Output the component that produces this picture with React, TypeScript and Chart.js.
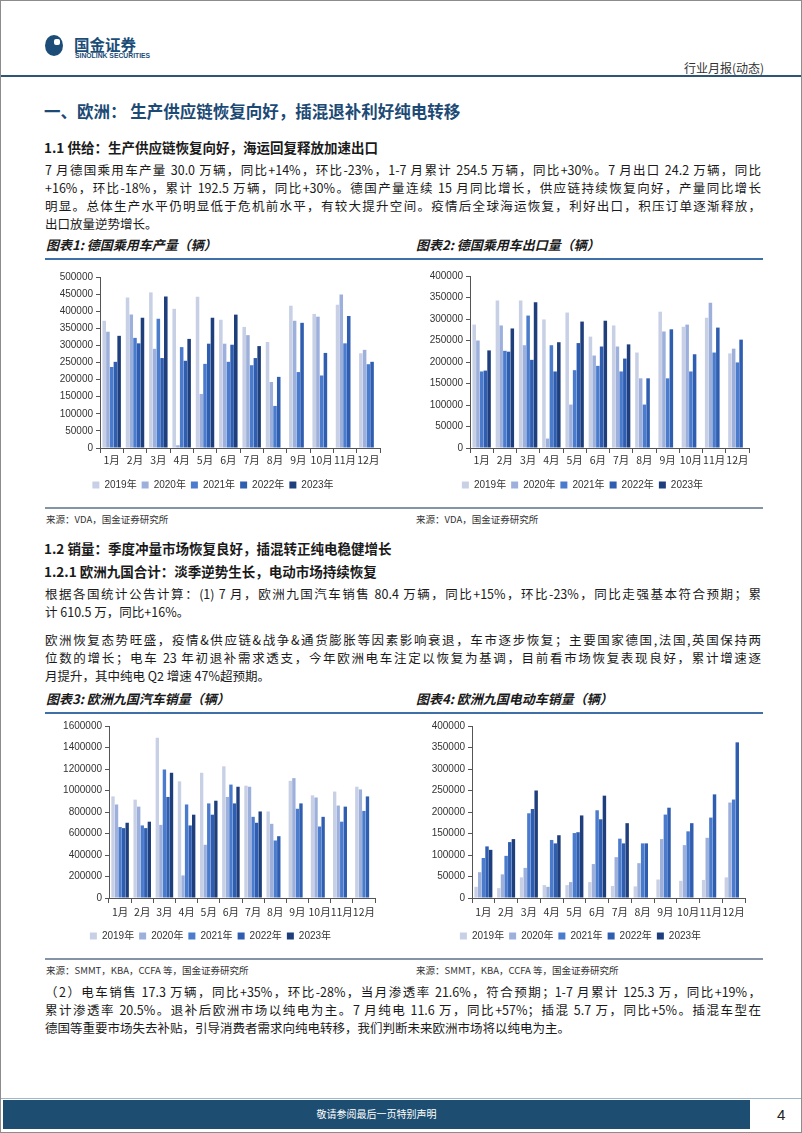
import React, { useEffect, useRef } from "react";
import { Chart, registerables } from "chart.js";

Chart.register(...registerables);

// ---------- data ----------
const months = ["1月", "2月", "3月", "4月", "5月", "6月", "7月", "8月", "9月", "10月", "11月", "12月"];
const seriesNames = ["2019年", "2020年", "2021年", "2022年", "2023年"];
const seriesColors = ["#c8d0e6", "#9db0dc", "#4a7bcc", "#2f5db0", "#1f3e7c"];

// 图表1: 德国乘用车产量（辆）
const prod2019 = [372000, 440000, 455000, 407000, 442000, 375000, 354000, 310000, 416000, 392000, 419000, 277000];
const prod2020 = [340000, 390000, 290000, 8000, 158000, 305000, 330000, 193000, 372000, 384000, 449000, 287000];
const prod2021 = [237000, 322000, 378000, 295000, 246000, 252000, 242000, 123000, 222000, 212000, 306000, 245000];
const prod2022 = [252000, 306000, 263000, 255000, 305000, 302000, 263000, 208000, 366000, 278000, 386000, 252000];
const prod2023 = [328000, 381000, 443000, 319000, 381000, 390000, 298000, null, null, null, null, null];

// 图表2: 德国乘用车出口量（辆）
const exp2019 = [287000, 343000, 343000, 299000, 315000, 259000, 285000, 222000, 317000, 282000, 303000, 220000];
const exp2020 = [250000, 285000, 239000, 22000, 101000, 215000, 236000, 162000, 271000, 287000, 338000, 231000];
const exp2021 = [178000, 226000, 308000, 239000, 181000, 191000, 178000, 101000, 162000, 178000, 222000, 199000];
const exp2022 = [180000, 224000, 205000, 178000, 244000, 236000, 208000, 162000, 276000, 218000, 280000, 252000];
const exp2023 = [227000, 278000, 339000, 246000, 294000, 296000, 241000, null, null, null, null, null];

// 图表3: 欧洲九国汽车销量（辆）
const sale2019 = [945000, 915000, 1490000, 1085000, 1165000, 1225000, 1045000, 805000, 1090000, 955000, 990000, 1035000];
const sale2020 = [870000, 850000, 680000, 210000, 495000, 940000, 1035000, 690000, 1115000, 935000, 860000, 1010000];
const sale2021 = [660000, 675000, 1195000, 870000, 880000, 1055000, 755000, 535000, 830000, 665000, 710000, 810000];
const sale2022 = [650000, 650000, 940000, 675000, 775000, 880000, 700000, 575000, 880000, 755000, 850000, 945000];
const sale2023 = [700000, 710000, 1165000, 775000, 905000, 1035000, 805000, null, null, null, null, null];

// 图表4: 欧洲九国电动车销量（辆）
const ev2019 = [26000, 23000, 48000, 30000, 30000, 37000, 28000, 27000, 43000, 40000, 42000, 48000];
const ev2020 = [60000, 55000, 70000, 26000, 37000, 79000, 95000, 81000, 137000, 123000, 140000, 222000];
const ev2021 = [93000, 98000, 197000, 135000, 151000, 204000, 138000, 127000, 194000, 155000, 187000, 229000];
const ev2022 = [120000, 130000, 207000, 127000, 153000, 183000, 127000, 127000, 210000, 174000, 241000, 362000];
const ev2023 = [112000, 137000, 250000, 146000, 192000, 238000, 174000, null, null, null, null, null];

const CJK = "'Noto Sans CJK SC', sans-serif";
const NUMF = "'Liberation Sans', 'Noto Sans CJK SC', sans-serif";

type Box = { x: number; y: number; w: number; h: number };

function BarChart(props: {
  box: Box;
  series: (number | null)[][];
  max: number;
  step: number;
  axisW: number;
  xAxisH: number;
  tickPad: number;
  pad: { top: number; right: number; bottom: number; left: number };
}) {
  const ref = useRef<HTMLCanvasElement>(null);
  useEffect(() => {
    const chart = new Chart(ref.current!, {
      type: "bar",
      data: {
        labels: months,
        datasets: props.series.map((d, i) => ({
          label: seriesNames[i],
          data: d as any,
          backgroundColor: seriesColors[i],
          borderWidth: 0,
          categoryPercentage: 0.8,
          barPercentage: 0.95,
        })),
      },
      options: {
        animation: false,
        responsive: false,
        maintainAspectRatio: false,
        layout: { padding: props.pad },
        plugins: {
          tooltip: { enabled: false },
          legend: {
            position: "bottom",
            labels: {
              boxWidth: 7,
              boxHeight: 7,
              padding: 5,
              color: "#333",
              font: { family: NUMF, size: 10 },
            },
          },
        },
        scales: {
          x: {
            grid: {
              display: true,
              drawOnChartArea: false,
              drawTicks: true,
              tickLength: 5,
              color: "#555",
              offset: true,
            },
            border: { display: true, color: "#555", width: 1 },
            ticks: {
              color: "#333",
              padding: props.tickPad,
              maxRotation: 0,
              autoSkip: false,
              font: { family: CJK, size: 10.5 },
            },
            afterFit: (s: any) => {
              s.height = props.xAxisH;
            },
          },
          y: {
            min: 0,
            max: props.max,
            grid: {
              display: true,
              drawOnChartArea: false,
              drawTicks: true,
              tickLength: 4,
              color: "#555",
            },
            border: { display: true, color: "#555", width: 1 },
            ticks: {
              stepSize: props.step,
              color: "#333",
              padding: 3,
              font: { family: NUMF, size: 10 },
              callback: (v: any) => String(v),
            },
            afterFit: (s: any) => {
              s.width = props.axisW;
            },
          },
        },
      },
    });
    return () => chart.destroy();
  }, []);
  const b = props.box;
  return (
    <canvas
      ref={ref}
      width={b.w}
      height={b.h}
      style={{ position: "absolute", left: b.x, top: b.y, width: b.w, height: b.h }}
    />
  );
}

function T(props: {
  x: number;
  y: number; // vertical centre
  size: number;
  text: React.ReactNode;
  w?: number;
  bold?: boolean;
  italic?: boolean;
  color?: string;
  justify?: boolean;
  family?: string;
  ls?: number;
}) {
  const lh = Math.round(props.size * 1.4);
  return (
    <div
      style={{
        position: "absolute",
        left: props.x,
        top: props.y - lh / 2,
        width: props.w,
        height: lh,
        lineHeight: lh + "px",
        fontSize: props.size,
        fontFamily: props.family || CJK,
        fontWeight: props.bold ? 700 : 400,
        fontStyle: props.italic ? "italic" : "normal",
        color: props.color || "#1a1a1a",
        whiteSpace: "nowrap",
        textAlign: props.justify ? "justify" : "left",
        textAlignLast: props.justify ? "justify" : "auto",
        letterSpacing: props.ls ?? 0,
      } as React.CSSProperties}
    >
      {props.text}
    </div>
  );
}

const para1 = [
  "7 月德国乘用车产量 30.0 万辆，同比+14%，环比-23%，1-7 月累计 254.5 万辆，同比+30%。7 月出口 24.2 万辆，同比",
  "+16%，环比-18%，累计 192.5 万辆，同比+30%。德国产量连续 15 月同比增长，供应链持续恢复向好，产量同比增长",
  "明显。总体生产水平仍明显低于危机前水平，有较大提升空间。疫情后全球海运恢复，利好出口，积压订单逐渐释放，",
  "出口放量逆势增长。",
];
const para2 = [
  "根据各国统计公告计算：(1) 7 月，欧洲九国汽车销售 80.4 万辆，同比+15%，环比-23%，同比走强基本符合预期；累",
  "计 610.5 万，同比+16%。",
];
const para3 = [
  "欧洲恢复态势旺盛，疫情&供应链&战争&通货膨胀等因素影响衰退，车市逐步恢复；主要国家德国,法国,英国保持两",
  "位数的增长；电车 23 年初退补需求透支，今年欧洲电车注定以恢复为基调，目前看市场恢复表现良好，累计增速逐",
  "月提升，其中纯电 Q2 增速 47%超预期。",
];
const para4 = [
  "（2）电车销售 17.3 万辆，同比+35%，环比-28%，当月渗透率 21.6%，符合预期；1-7 月累计 125.3 万，同比+19%，",
  "累计渗透率 20.5%。退补后欧洲市场以纯电为主。7 月纯电 11.6 万，同比+57%；插混 5.7 万，同比+5%。插混车型在",
  "德国等重要市场失去补贴，引导消费者需求向纯电转移，我们判断未来欧洲市场将以纯电为主。",
];

function Para(props: { lines: string[]; y0: number; gap: number }) {
  return (
    <>
      {props.lines.map((l, i) => (
        <T
          key={i}
          x={44}
          y={props.y0 + i * props.gap}
          w={716}
          size={12.5}
          text={l}
          justify={i < props.lines.length - 1}
        />
      ))}
    </>
  );
}

function HLine(props: { x: number; y: number; w: number; h: number; color: string }) {
  return (
    <div
      style={{
        position: "absolute",
        left: props.x,
        top: props.y,
        width: props.w,
        height: props.h,
        background: props.color,
      }}
    />
  );
}

export default function App() {
  return (
    <div
      style={{
        position: "absolute",
        left: 0,
        top: 0,
        width: 802,
        height: 1133,
        background: "#fff",
        overflow: "hidden",
        boxSizing: "border-box",
        border: "1px solid #8c8c8c",
      }}
    >
      {/* logo */}
      <div
        style={{
          position: "absolute",
          left: 44,
          top: 34,
          width: 18,
          height: 21,
          borderRadius: "50%",
          background: "#1b4d78",
        }}
      />
      <div
        style={{
          position: "absolute",
          left: 53,
          top: 38,
          width: 6,
          height: 6,
          borderRadius: 2,
          background: "#fff",
        }}
      />
      <T x={73} y={43} size={15.5} bold text="国金证券" color="#1b4d78" />
      <T x={74} y={54.5} size={6.8} bold text="SINOLINK SECURITIES" color="#1b4d78" family={NUMF} />
      <T x={683} y={66} size={12} text="行业月报(动态)" color="#333" />
      <HLine x={0} y={74} w={802} h={1.5} color="#2c5578" />

      {/* section heading */}
      <T x={43} y={110} size={16.5} bold text="一、欧洲： 生产供应链恢复向好，插混退补利好纯电转移" color="#1c4a75" />
      <T x={43} y={146} size={13.5} bold text="1.1 供给：生产供应链恢复向好，海运回复释放加速出口" />
      <Para lines={para1} y0={169} gap={18} />

      <T x={45} y={244} size={13} bold italic text="图表1: 德国乘用车产量（辆）" />
      <T x={415} y={244} size={13} bold italic text="图表2: 德国乘用车出口量（辆）" />
      <HLine x={44} y={257} w={718} h={2} color="#3e6fa6" />

      <BarChart
        box={{ x: 45, y: 262, w: 347, h: 240 }}
        series={[prod2019, prod2020, prod2021, prod2022, prod2023]}
        max={500000}
        step={50000}
        axisW={54}
        xAxisH={27}
        tickPad={1}
        pad={{ top: 14, right: 13, bottom: 3, left: 0 }}
      />
      <BarChart
        box={{ x: 415, y: 261, w: 347, h: 241 }}
        series={[exp2019, exp2020, exp2021, exp2022, exp2023]}
        max={400000}
        step={50000}
        axisW={54}
        xAxisH={27}
        tickPad={1}
        pad={{ top: 14, right: 14, bottom: 3, left: 0 }}
      />
      <HLine x={44} y={506} w={718} h={2} color="#8494a6" />
      <T x={45} y={518} size={9.5} text="来源：VDA，国金证券研究所" color="#333" />
      <T x={415} y={518} size={9.5} text="来源：VDA，国金证券研究所" color="#333" />

      <T x={43} y={547} size={13.5} bold text="1.2 销量：季度冲量市场恢复良好，插混转正纯电稳健增长" />
      <T x={43} y={570} size={13.5} bold text="1.2.1 欧洲九国合计：淡季逆势生长，电动市场持续恢复" />
      <Para lines={para2} y0={593} gap={18} />
      <Para lines={para3} y0={639} gap={18} />

      <T x={45} y={698} size={13} bold italic text="图表3: 欧洲九国汽车销量（辆）" />
      <T x={415} y={698} size={13} bold italic text="图表4: 欧洲九国电动车销量（辆）" />
      <HLine x={44} y={711} w={718} h={2} color="#3e6fa6" />

      <BarChart
        box={{ x: 45, y: 711, w: 347, h: 243 }}
        series={[sale2019, sale2020, sale2021, sale2022, sale2023]}
        max={1600000}
        step={200000}
        axisW={63}
        xAxisH={28}
        tickPad={3}
        pad={{ top: 14, right: 18, bottom: 4, left: 0 }}
      />
      <BarChart
        box={{ x: 415, y: 711, w: 347, h: 243 }}
        series={[ev2019, ev2020, ev2021, ev2022, ev2023]}
        max={400000}
        step={50000}
        axisW={56}
        xAxisH={28}
        tickPad={3}
        pad={{ top: 14, right: 18, bottom: 4, left: 0 }}
      />
      <HLine x={44} y={957} w={718} h={2} color="#8494a6" />
      <T x={45} y={969} size={9.5} text="来源：SMMT，KBA，CCFA 等，国金证券研究所" color="#333" />
      <T x={415} y={969} size={9.5} text="来源：SMMT，KBA，CCFA 等，国金证券研究所" color="#333" />

      <Para lines={para4} y0={991} gap={18} />

      {/* footer */}
      <HLine x={0} y={1097} w={802} h={1} color="#9fb6c8" />
      <div
        style={{
          position: "absolute",
          left: 2,
          top: 1099,
          width: 747,
          height: 29,
          background: "#1d4e72",
        }}
      />
      <T x={2} y={1113} w={747} size={10} text={<div style={{ textAlign: "center" }}>敬请参阅最后一页特别声明</div>} color="#fff" />
      <T x={776} y={1113} size={15} text="4" color="#222" family={NUMF} />
    </div>
  );
}
